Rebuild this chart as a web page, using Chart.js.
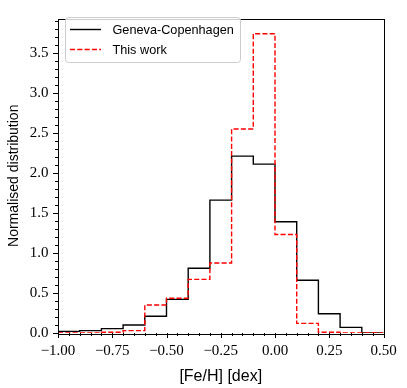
<!DOCTYPE html>
<html>
<head>
<meta charset="utf-8">
<script src="https://cdn.jsdelivr.net/npm/chart.js@4.4.1/dist/chart.umd.min.js"></script>
<style>
  html, body { margin: 0; padding: 0; background: #fff; }
  #wrap { width: 407px; height: 388px; }
</style>
</head>
<body>
<div id="wrap"><canvas id="feh"></canvas></div>
<script>
// bin edges of the histogram, [Fe/H] in dex
const binEdges = [-1.0, -0.9, -0.8, -0.7, -0.6, -0.5, -0.4, -0.3, -0.2, -0.1, 0.0, 0.1, 0.2, 0.3, 0.4, 0.5];
// normalised counts per bin
const genevaCopenhagen = [0.02, 0.03, 0.055, 0.10, 0.21, 0.42, 0.81, 1.66, 2.21, 2.11, 1.39, 0.66, 0.24, 0.07, 0.0];
const thisWork = [0.0, 0.0, 0.01, 0.03, 0.35, 0.435, 0.67, 0.875, 2.55, 3.74, 1.23, 0.12, 0.01, 0.0, 0.0];
const seriesLabels = ['Geneva-Copenhagen', 'This work'];
const xTicks = [-1.0, -0.75, -0.5, -0.25, 0.0, 0.25, 0.5];
const yTicks = [0.0, 0.5, 1.0, 1.5, 2.0, 2.5, 3.0, 3.5];
const yMax = 3.93;

// outline of a step histogram: up at the first edge, flat over each bin, down at the last edge
function stepPoints(values) {
  const n = values.length;
  const pts = [{ x: binEdges[0], y: 0 }];
  values.forEach((v, i) => {
    pts.push({ x: binEdges[i], y: v });
    pts.push({ x: binEdges[i + 1], y: v });
  });
  pts.push({ x: binEdges[n], y: 0 });
  return pts;
}

const fmt = (v, d) => (v < 0 ? '\u2212' : '') + Math.abs(v).toFixed(d);

// frame, tick marks and the legend box
const axisDecor = {
  id: 'axisDecor',
  afterDraw(chart) {
    const { ctx, chartArea: a, scales: { x, y } } = chart;
    ctx.save();
    ctx.strokeStyle = '#000';
    ctx.lineWidth = 1;
    ctx.beginPath();
    for (let i = 0; i <= 30; i++) {
      const v = -1 + i * 0.05;
      const px = Math.round(x.getPixelForValue(v)) + 0.5;
      const len = i % 5 === 0 ? 5 : 3;
      ctx.moveTo(px, a.bottom);
      ctx.lineTo(px, a.bottom + len);
    }
    for (let i = 0; i <= 39; i++) {
      const v = i * 0.1;
      if (v > yMax) break;
      const py = Math.round(y.getPixelForValue(v)) + 0.5;
      const len = i % 5 === 0 ? 5 : 3;
      ctx.moveTo(a.left, py);
      ctx.lineTo(a.left - len, py);
    }
    ctx.stroke();
    ctx.strokeRect(Math.round(a.left) + 0.5, Math.round(a.top) + 0.5,
      Math.round(a.right - a.left), Math.round(a.bottom - a.top));

    // legend
    const bx = 65.5, by = 17.5, bw = 175, bh = 45, r = 3;
    ctx.beginPath();
    ctx.moveTo(bx + r, by);
    ctx.arcTo(bx + bw, by, bx + bw, by + bh, r);
    ctx.arcTo(bx + bw, by + bh, bx, by + bh, r);
    ctx.arcTo(bx, by + bh, bx, by, r);
    ctx.arcTo(bx, by, bx + bw, by, r);
    ctx.closePath();
    ctx.fillStyle = 'rgba(255,255,255,0.8)';
    ctx.fill();
    ctx.strokeStyle = '#cccccc';
    ctx.stroke();

    ctx.font = '12.7px "Liberation Sans", Arial, sans-serif';
    ctx.textBaseline = 'middle';
    ctx.fillStyle = '#000';
    chart.data.datasets.forEach((ds, i) => {
      const ly = 29.5 + i * 20;
      ctx.beginPath();
      ctx.strokeStyle = ds.borderColor;
      ctx.lineWidth = ds.borderWidth;
      ctx.setLineDash(ds.borderDash || []);
      ctx.moveTo(70, ly);
      ctx.lineTo(101, ly);
      ctx.stroke();
      ctx.setLineDash([]);
      ctx.fillText(ds.label, 112.5, ly + 0.5);
    });
    ctx.restore();
  }
};

new Chart(document.getElementById('feh'), {
  type: 'line',
  data: {
    datasets: [
      {
        label: seriesLabels[0],
        data: stepPoints(genevaCopenhagen),
        borderColor: '#000000',
        borderWidth: 1.4,
        pointRadius: 0,
        tension: 0,
        fill: false,
        order: 1
      },
      {
        label: seriesLabels[1],
        data: stepPoints(thisWork),
        borderColor: '#ff0000',
        borderWidth: 1.4,
        borderDash: [5.1, 2.2],
        pointRadius: 0,
        tension: 0,
        fill: false,
        order: 0
      }
    ]
  },
  options: {
    responsive: true,
    maintainAspectRatio: false,
    animation: false,
    events: [],
    layout: { padding: { top: 11, right: 23.5, left: 0, bottom: 0 } },
    plugins: {
      legend: { display: false },
      tooltip: { enabled: false }
    },
    scales: {
      x: {
        type: 'linear',
        min: -1.0,
        max: 0.5,
        afterBuildTicks: s => { s.ticks = xTicks.map(v => ({ value: v })); },
        afterFit: s => { s.height = 55; },
        grid: { display: false, drawTicks: false },
        border: { display: false },
        ticks: {
          maxRotation: 0,
          autoSkip: false,
          padding: 9,
          color: '#000',
          font: { family: '"Liberation Serif", "DejaVu Serif", serif', size: 15 },
          callback: v => fmt(v, 2)
        },
        title: {
          display: true,
          text: '[Fe/H] [dex]',
          color: '#000',
          padding: { top: 0, bottom: 2 },
          font: { family: '"Liberation Sans", Arial, sans-serif', size: 16 }
        }
      },
      y: {
        type: 'linear',
        min: 0,
        max: yMax,
        afterBuildTicks: s => { s.ticks = yTicks.map(v => ({ value: v })); },
        afterFit: s => { s.width = 58; },
        grid: { display: false, drawTicks: false },
        border: { display: false },
        ticks: {
          autoSkip: false,
          padding: 9.5,
          color: '#000',
          font: { family: '"Liberation Serif", "DejaVu Serif", serif', size: 15 },
          callback: v => fmt(v, 1)
        },
        title: {
          display: true,
          text: 'Normalised distribution',
          color: '#000',
          padding: { top: 6, bottom: 0 },
          font: { family: '"Liberation Sans", Arial, sans-serif', size: 14 }
        }
      }
    }
  },
  plugins: [axisDecor]
});
</script>
</body>
</html>
